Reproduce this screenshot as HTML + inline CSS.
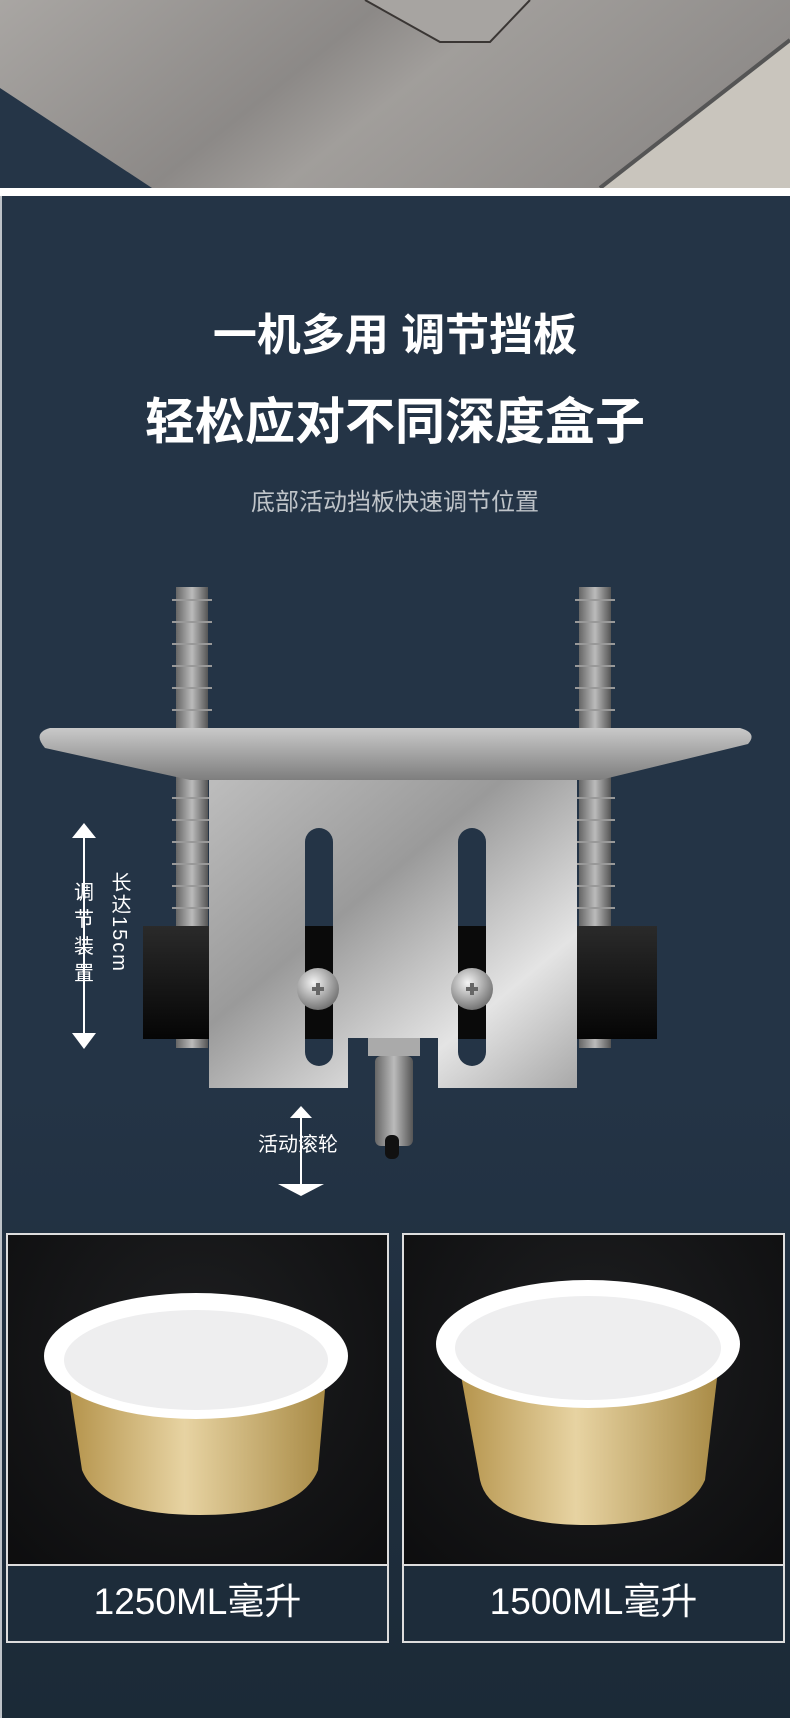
<!DOCTYPE html>
<html><head><meta charset="utf-8"><style>
html,body{margin:0;padding:0;}
body{width:790px;height:1718px;position:relative;overflow:hidden;background:#243446;font-family:"Liberation Sans","Noto Sans CJK SC",sans-serif;}
.t{position:absolute;left:0;width:790px;text-align:center;color:#fff;font-weight:bold;}
</style></head><body>
<svg width="790" height="1718" style="position:absolute;left:0;top:0" xmlns="http://www.w3.org/2000/svg">
<defs>
<linearGradient id="steel" x1="0" y1="0" x2="1" y2="0.3">
<stop offset="0" stop-color="#a9a6a3"/><stop offset="0.45" stop-color="#8c8987"/><stop offset="0.6" stop-color="#a19e9b"/><stop offset="1" stop-color="#8e8b89"/></linearGradient>
<linearGradient id="plate" x1="0" y1="0" x2="0" y2="1"><stop offset="0" stop-color="#c9c9c9"/><stop offset="1" stop-color="#7e7e7e"/></linearGradient>
<linearGradient id="brk" x1="0" y1="0" x2="1" y2="1"><stop offset="0" stop-color="#bdbdbd"/><stop offset="0.4" stop-color="#9a9a9a"/><stop offset="0.75" stop-color="#e4e4e4"/><stop offset="1" stop-color="#a8a8a8"/></linearGradient>
<linearGradient id="rod" x1="0" y1="0" x2="1" y2="0"><stop offset="0" stop-color="#666"/><stop offset="0.5" stop-color="#bbb"/><stop offset="1" stop-color="#555"/></linearGradient>
<linearGradient id="blk" x1="0" y1="0" x2="0" y2="1"><stop offset="0" stop-color="#2a2a2a"/><stop offset="1" stop-color="#050505"/></linearGradient>
<radialGradient id="scr" cx="0.4" cy="0.35" r="0.7"><stop offset="0" stop-color="#f4f4f4"/><stop offset="1" stop-color="#6c6c6c"/></radialGradient>
<linearGradient id="bg2" x1="0" y1="0" x2="0" y2="1"><stop offset="0" stop-color="#243446"/><stop offset="1" stop-color="#1b2a37"/></linearGradient>
<radialGradient id="photo" cx="0.5" cy="0.3" r="0.8"><stop offset="0" stop-color="#1e1f21"/><stop offset="1" stop-color="#0b0b0c"/></radialGradient>
<linearGradient id="gold" x1="0" y1="0" x2="1" y2="0"><stop offset="0" stop-color="#b5944c"/><stop offset="0.45" stop-color="#e7d3a2"/><stop offset="1" stop-color="#a98b46"/></linearGradient>
</defs>
<rect x="0" y="0" width="790" height="188" fill="url(#steel)"/>
<polygon points="0,88 152,188 0,188" fill="#253547"/>
<polygon points="790,40 790,188 600,188" fill="#c9c5bd"/>
<polyline points="790,40 600,188" stroke="#555" stroke-width="4" fill="none"/>
<polygon points="365,0 440,42 490,42 530,0" fill="#a7a4a1"/>
<polyline points="365,0 440,42 490,42 530,0" stroke="#3a3634" stroke-width="2" fill="none"/>
<rect x="0" y="188" width="790" height="8" fill="#fff"/>
<rect x="0" y="196" width="2" height="1522" fill="#fff" opacity="0.7"/>
<rect x="2" y="1080" width="788" height="638" fill="url(#bg2)"/>
<rect x="176" y="587" width="32" height="461" fill="url(#rod)"/>
<rect x="579" y="587" width="32" height="461" fill="url(#rod)"/>
<g stroke="#999" stroke-width="2">
<path d="M172 600h40M172 622h40M172 644h40M172 666h40M172 688h40M172 710h40M172 798h40M172 820h40M172 842h40M172 864h40M172 886h40M172 908h40"/>
<path d="M575 600h40M575 622h40M575 644h40M575 666h40M575 688h40M575 710h40M575 798h40M575 820h40M575 842h40M575 864h40M575 886h40M575 908h40"/>
</g>
<rect x="143" y="926" width="70" height="113" fill="url(#blk)"/>
<rect x="575" y="926" width="82" height="113" fill="url(#blk)"/>
<path d="M50 728 L740 728 Q758 733 748 744 L600 780 L190 780 L45 748 Q32 733 50 728 Z" fill="url(#plate)"/>
<path d="M209 780 H577 V1088 H438 V1038 H348 V1088 H209 Z" fill="url(#brk)"/>
<rect x="305" y="828" width="28" height="238" rx="14" fill="#243446"/>
<rect x="458" y="828" width="28" height="238" rx="14" fill="#243446"/>
<rect x="305" y="926" width="28" height="113" fill="#0a0a0a"/>
<rect x="458" y="926" width="28" height="113" fill="#0a0a0a"/>
<circle cx="318" cy="989" r="21" fill="url(#scr)"/>
<circle cx="472" cy="989" r="21" fill="url(#scr)"/>
<path d="M312 989h12M318 983v12M466 989h12M472 983v12" stroke="#666" stroke-width="4"/>
<rect x="368" y="1038" width="52" height="18" fill="#aaa"/>
<rect x="375" y="1056" width="38" height="90" rx="6" fill="url(#rod)"/>
<rect x="385" y="1135" width="14" height="24" rx="6" fill="#111"/>
<g fill="#fff" stroke="#fff">
<line x1="84" y1="830" x2="84" y2="1042" stroke-width="2"/>
<polygon points="72,838 84,823 96,838" stroke="none"/>
<polygon points="72,1033 84,1049 96,1033" stroke="none"/>
<line x1="301" y1="1110" x2="301" y2="1190" stroke-width="2"/>
<polygon points="290,1118 301,1106 312,1118" stroke="none"/>
<polygon points="278,1184 301,1196 324,1184" stroke="none"/>
</g>
<rect x="7" y="1234" width="381" height="408" fill="url(#photo)" stroke="#ddd" stroke-width="2"/>
<rect x="403" y="1234" width="381" height="408" fill="url(#photo)" stroke="#ddd" stroke-width="2"/>
<rect x="8" y="1565" width="379" height="76" fill="#1d2c3a"/>
<rect x="404" y="1565" width="379" height="76" fill="#1d2c3a"/>
<line x1="7" y1="1565" x2="388" y2="1565" stroke="#ddd" stroke-width="2"/>
<line x1="403" y1="1565" x2="784" y2="1565" stroke="#ddd" stroke-width="2"/>
<path d="M70 1390 L325 1390 L318 1470 Q300 1515 200 1515 Q100 1515 82 1470 Z" fill="url(#gold)"/>
<ellipse cx="196" cy="1356" rx="152" ry="63" fill="#fff"/>
<ellipse cx="196" cy="1360" rx="132" ry="50" fill="#eeeeef"/>
<path d="M460 1370 L718 1370 L705 1480 Q685 1525 588 1525 Q490 1525 480 1480 Z" fill="url(#gold)"/>
<ellipse cx="588" cy="1344" rx="152" ry="64" fill="#fff"/>
<ellipse cx="588" cy="1348" rx="133" ry="52" fill="#eeeeef"/>
</svg>
<div class="t" style="top:308px;font-size:44px;line-height:56px;">一机多用 调节挡板</div>
<div class="t" style="top:392px;font-size:50px;line-height:60px;">轻松应对不同深度盒子</div>
<div class="t" style="top:488px;font-size:24px;line-height:30px;font-weight:normal;color:#bfc4c9;">底部活动挡板快速调节位置</div>
<div style="position:absolute;left:72px;top:880px;width:24px;color:#fff;font-size:20px;line-height:27px;text-align:center;">调<br>节<br>装<br>置</div>
<div style="position:absolute;left:106px;top:872px;width:24px;color:#fff;font-size:20px;line-height:22px;text-align:center;writing-mode:vertical-rl;letter-spacing:2px;">长达15cm</div>
<div style="position:absolute;left:258px;top:1132px;color:#fff;font-size:20px;line-height:26px;">活动滚轮</div>
<div style="position:absolute;left:7px;top:1579px;width:381px;text-align:center;color:#fff;font-size:37px;line-height:46px;">1250ML毫升</div>
<div style="position:absolute;left:403px;top:1579px;width:381px;text-align:center;color:#fff;font-size:37px;line-height:46px;">1500ML毫升</div>
</body></html>
